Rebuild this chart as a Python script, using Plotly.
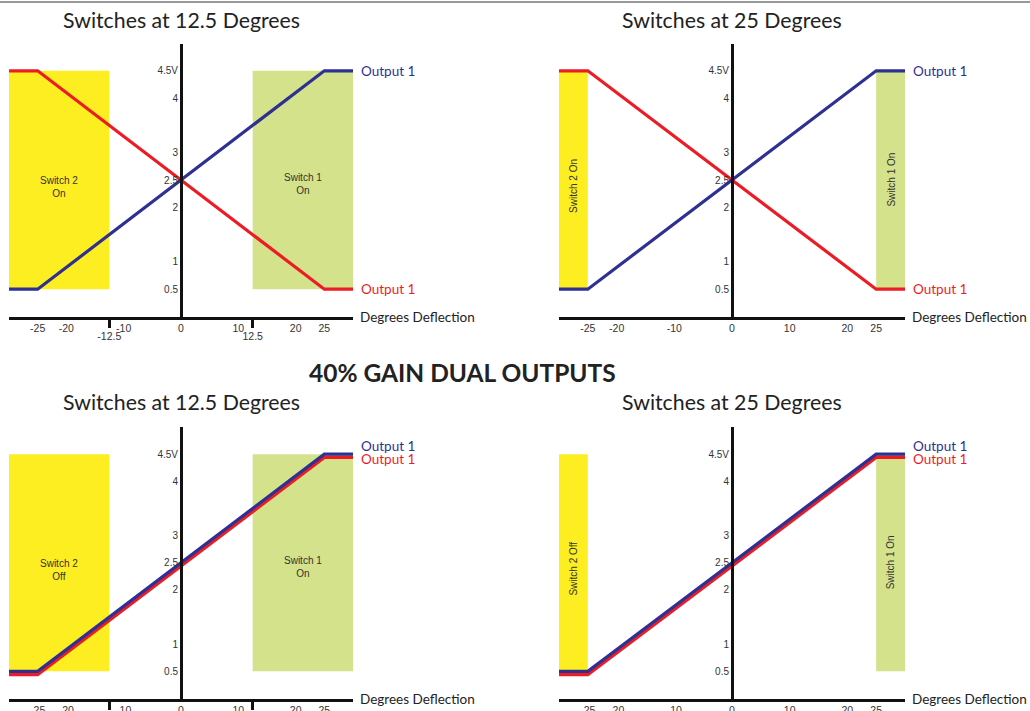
import plotly.graph_objects as go

W, H = 1030, 711

# ---------------- data ----------------
x_knots = [-30, -25, 25, 30]
blue_top = [0.5, 0.5, 4.5, 4.5]
red_top = [4.5, 4.5, 0.5, 0.5]
blue_bot = [0.5, 0.5, 4.5, 4.5]
red_bot = [0.44, 0.44, 4.44, 4.44]

x_ticks = [-25, -20, -10, 0, 10, 20, 25]
x_tick_text = ["-25", "-20", "-10", "0", "10", "20", "25"]
switch_ticks = [-12.5, 12.5]
switch_tick_text = ["-12.5", "12.5"]
y_ticks = [0.5, 1, 2, 2.5, 3, 4, 4.5]
y_tick_text = ["0.5", "1", "2", "2.5", "3", "4", "4.5V"]

panel_titles = ["Switches at 12.5 Degrees", "Switches at 25 Degrees",
                "Switches at 12.5 Degrees", "Switches at 25 Degrees"]
switch2_x = [[-30, -12.5], [-30, -25], [-30, -12.5], [-30, -25]]
switch1_x = [[12.5, 30], [25, 30], [12.5, 30], [25, 30]]
band_y = [0.5, 4.5]
switch2_text = ["Switch 2<br>On", "Switch 2 On", "Switch 2<br>Off", "Switch 2 Off"]
switch1_text = ["Switch 1<br>On", "Switch 1 On", "Switch 1<br>On", "Switch 1 On"]
switch2_text_y = [2.37, 2.4, 2.37, 2.4]
switch1_text_y = [2.42, 2.5, 2.42, 2.5]
rotated = [False, True, False, True]
main_title = "40% GAIN DUAL OUTPUTS"
x_title = "Degrees Deflection"
series_name = "Output 1"

BLUE = "#2e3192"
RED = "#ed1c24"
YELLOW = "#fcee21"
GREEN = "#d3e28b"
AX = "#111111"
TITLE_FONT = "Lato"
TICK_FONT = "Liberation Sans, Arial"

# ---------------- layout geometry ----------------
xdom = [[9 / W, 353 / W], [559 / W, 905 / W]]
ydom_top = [1 - 316.5 / H, 1 - 43.5 / H]
ydom_bot = [1 - 698.5 / H, 1 - 427 / H]
panels = [
    (xdom[0], ydom_top), (xdom[1], ydom_top),
    (xdom[0], ydom_bot), (xdom[1], ydom_bot),
]
series = [(blue_top, red_top), (blue_top, red_top), (blue_bot, red_bot), (blue_bot, red_bot)]

fig = go.Figure()
layout = dict(
    width=W, height=H,
    margin=dict(l=0, r=0, t=0, b=0, pad=0, autoexpand=False),
    paper_bgcolor="white", plot_bgcolor="rgba(0,0,0,0)",
    showlegend=False,
)
shapes = []
annotations = []

for i, ((xd, yd), (bl, rd)) in enumerate(zip(panels, series)):
    n = i + 1
    xa = "x" if n == 1 else f"x{n}"
    ya = "y" if n == 1 else f"y{n}"
    xkey = "xaxis" if n == 1 else f"xaxis{n}"
    ykey = "yaxis" if n == 1 else f"yaxis{n}"
    zero_pos = xd[0] + (0 - (-30)) / 60 * (xd[1] - xd[0])

    layout[xkey] = dict(
        domain=xd, anchor=ya, range=[-30, 30], fixedrange=True, automargin=False,
        showgrid=False, zeroline=False, showline=True, linewidth=3, linecolor=AX,
        tickmode="array", tickvals=x_ticks, ticktext=x_tick_text, ticks="",
        tickfont=dict(family=TICK_FONT, size=10.5, color="#333"),
    )
    layout[ykey] = dict(
        domain=yd, anchor="free", position=zero_pos, range=[0, 5], fixedrange=True,
        automargin=False,
        showgrid=False, zeroline=False, showline=True, linewidth=3, linecolor=AX,
        tickmode="array", tickvals=y_ticks, ticktext=y_tick_text, ticks="",
        tickfont=dict(family=TICK_FONT, size=10, color="#333"),
    )

    for bx, col in ((switch2_x[i], YELLOW), (switch1_x[i], GREEN)):
        shapes.append(dict(type="rect", xref=xa, yref=ya, x0=bx[0], x1=bx[1],
                           y0=band_y[0], y1=band_y[1], fillcolor=col,
                           line=dict(width=0), layer="below"))

    for bx, txt, ty in ((switch2_x[i], switch2_text[i], switch2_text_y[i]),
                        (switch1_x[i], switch1_text[i], switch1_text_y[i])):
        annotations.append(dict(
            xref=xa, yref=ya, x=(bx[0] + bx[1]) / 2, y=ty, text=txt,
            showarrow=False, textangle=-90 if rotated[i] else 0,
            font=dict(family=TICK_FONT, size=10, color="#333"),
            align="center"))

    fig.add_trace(go.Scatter(x=x_knots, y=rd, mode="lines", xaxis=xa, yaxis=ya,
                             line=dict(color=RED, width=3.2), hoverinfo="skip"))
    fig.add_trace(go.Scatter(x=x_knots, y=bl, mode="lines", xaxis=xa, yaxis=ya,
                             line=dict(color=BLUE, width=3.2), hoverinfo="skip"))

    if i < 2:
        lab = [(bl[-1], BLUE, 0), (rd[-1], RED, 0)]
    else:
        lab = [(bl[-1], BLUE, 8), (rd[-1], RED, -2)]
    for yv, col, ys in lab:
        annotations.append(dict(
            xref=xa, yref=ya, x=30, y=yv, xanchor="left", yanchor="middle",
            xshift=6, yshift=ys, text=series_name, showarrow=False,
            font=dict(family=TITLE_FONT, size=13.5, color=col)))

    annotations.append(dict(
        xref=xa, yref=ya, x=30, y=0, xanchor="left", yanchor="middle",
        xshift=5, text=x_title, showarrow=False,
        font=dict(family=TITLE_FONT, size=13.5, color="#222")))

    annotations.append(dict(
        xref="paper", yref="paper", x=zero_pos,
        y=(1 - 20 / H) if i < 2 else (1 - 402 / H),
        xanchor="center", yanchor="middle", text=panel_titles[i], showarrow=False,
        font=dict(family=TITLE_FONT, size=21.3, color="#222")))

    if i in (0, 2):
        okey = f"xaxis{n + 4}"
        layout[okey] = dict(
            overlaying=xa, anchor=ya, range=[-30, 30], side="bottom",
            showgrid=False, zeroline=False, showline=False, fixedrange=True,
            automargin=False,
            tickmode="array", tickvals=switch_ticks, ticktext=switch_tick_text,
            ticks="outside", ticklen=10, tickwidth=3, tickcolor=AX,
            tickfont=dict(family=TICK_FONT, size=10.5, color="#333"),
        )
        fig.add_trace(go.Scatter(x=switch_ticks, y=[None, None], mode="lines",
                                 xaxis=f"x{n + 4}", yaxis=ya, hoverinfo="skip"))

annotations.append(dict(
    xref="paper", yref="paper", x=462 / W, y=1 - 372 / H,
    xanchor="center", yanchor="middle", text="<b>" + main_title + "</b>",
    showarrow=False, font=dict(family=TITLE_FONT, size=24.5, color="#222")))

shapes.append(dict(type="line", xref="paper", yref="paper", x0=0, x1=1,
                   y0=1 - 2 / H, y1=1 - 2 / H, line=dict(color="#333", width=1)))

layout["shapes"] = shapes
layout["annotations"] = annotations
fig.update_layout(**layout)

fig.write_html(
    "out.html",
    post_script="document.body.style.margin='0';document.documentElement.style.overflow='hidden';",
    config={"displayModeBar": False},
)
